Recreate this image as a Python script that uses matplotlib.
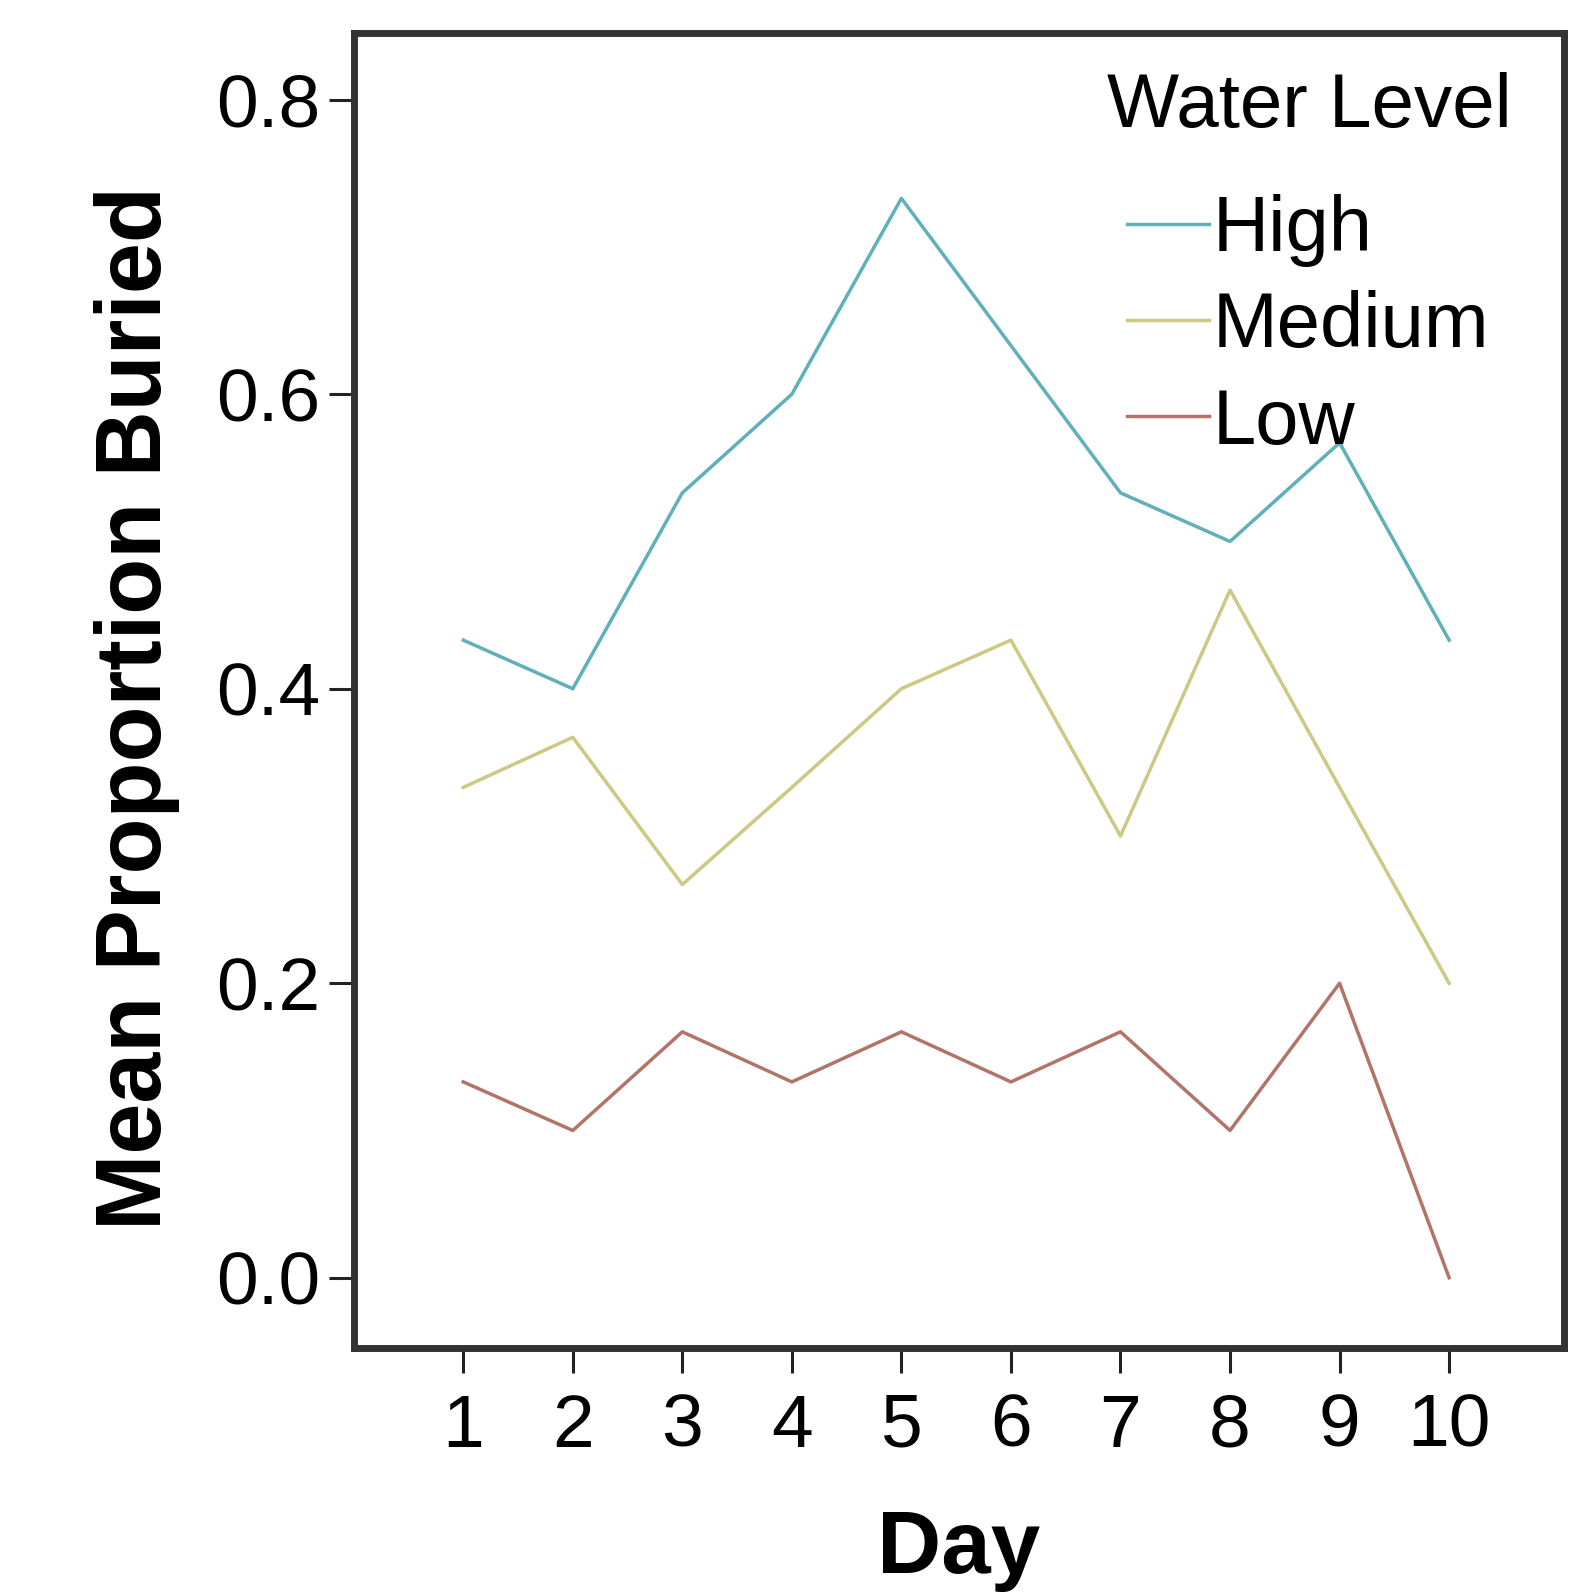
import matplotlib
matplotlib.use("Agg")
import matplotlib.pyplot as plt

plt.rcParams['font.family'] = ['Liberation Sans', 'DejaVu Sans']

days = [1, 2, 3, 4, 5, 6, 7, 8, 9, 10]
high = [0.433, 0.400, 0.533, 0.600, 0.733, 0.633, 0.533, 0.500, 0.567, 0.433]
medium = [0.333, 0.367, 0.267, 0.333, 0.400, 0.433, 0.300, 0.467, 0.333, 0.200]
low = [0.133, 0.100, 0.167, 0.133, 0.167, 0.133, 0.167, 0.100, 0.200, 0.000]
y_ticks = [0.0, 0.2, 0.4, 0.6, 0.8]

series = [("High", high, "#5fb0ba"),
          ("Medium", medium, "#cdc884"),
          ("Low", low, "#b27468")]

fig = plt.figure(figsize=(15.72, 15.92), dpi=100)
ax = fig.add_axes([0.225, 0.153, 0.770, 0.826])

for name, vals, col in series:
    ax.plot(days, vals, color=col, lw=2.5, label=name)

ax.set_xlim(0, 11.05)
ax.set_ylim(-0.048, 0.845)
ax.set_xticks(days)
ax.set_yticks(y_ticks)
ax.set_yticklabels([f"{v:.1f}" for v in y_ticks])

for s in ax.spines.values():
    s.set_linewidth(5)
    s.set_color("#333333")
ax.tick_params(axis='both', length=18, width=2.2, color="#222222",
               labelsize=54, pad=6)
ax.tick_params(axis='x', pad=14)

ax.set_xlabel("Day", fontsize=64, fontweight='bold', labelpad=33)
ax.set_ylabel("Mean Proportion Buried", fontsize=66, fontweight='bold', labelpad=26)
ax.yaxis.label.set_y(0.487)

# legend title drawn separately to get the wider gap above the entries
ax.text(0.622, 0.929, "Water Level", transform=ax.transAxes, fontsize=55,
        ha='left', va='baseline')
ax.legend(loc='upper left', bbox_to_anchor=(0.639, 0.878),
          frameon=False, fontsize=56, handlelength=1.05,
          handletextpad=0.05, labelspacing=0.3, borderpad=0, borderaxespad=0)

fig.savefig("out.png", dpi=100)
